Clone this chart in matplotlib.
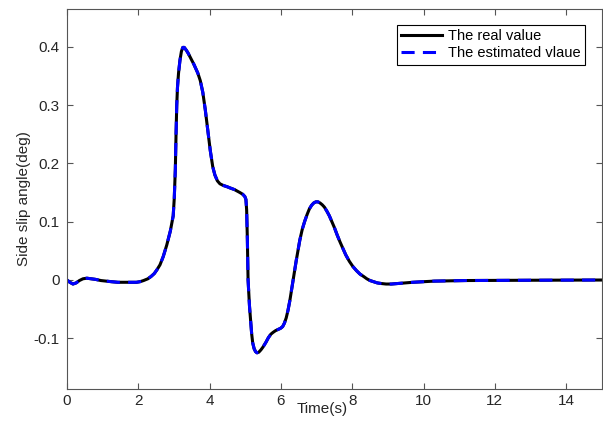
import matplotlib
matplotlib.use("Agg")
import matplotlib.pyplot as plt

plt.rcParams['font.family'] = ['Liberation Sans', 'DejaVu Sans']

# Data (time in s, side slip angle in deg)
time_s = [0.0, 0.08, 0.17, 0.26, 0.35, 0.45, 0.56, 0.68, 0.8, 0.95, 1.1,
          1.25, 1.43, 1.6, 1.8, 1.95, 2.05, 2.15, 2.27, 2.36, 2.45, 2.53,
          2.61, 2.7, 2.8, 2.9, 2.98, 3.01, 3.04, 3.06, 3.08, 3.1, 3.13,
          3.17, 3.21, 3.25, 3.29, 3.35, 3.4, 3.45, 3.56, 3.67, 3.74, 3.81,
          3.88, 3.95, 4.02, 4.09, 4.15, 4.22, 4.29, 4.39, 4.49, 4.57, 4.7,
          4.85, 4.93, 4.99, 5.02, 5.04, 5.06, 5.08, 5.12, 5.15, 5.18, 5.21,
          5.25, 5.29, 5.33, 5.38, 5.44, 5.5, 5.58, 5.65, 5.72, 5.78, 5.85,
          5.92, 5.99, 6.05, 6.1, 6.15, 6.2, 6.25, 6.3, 6.35, 6.43, 6.53,
          6.6, 6.67, 6.74, 6.8, 6.86, 6.92, 6.98, 7.04, 7.1, 7.16, 7.22,
          7.29, 7.36, 7.43, 7.5, 7.58, 7.66, 7.74, 7.82, 7.92, 8.02, 8.12,
          8.22, 8.32, 8.41, 8.5, 8.6, 8.7, 8.8, 8.95, 9.1, 9.3, 9.5, 9.7,
          10.0, 10.3, 10.7, 11.2, 12.0, 13.0, 14.0, 15.0]
real_value = [0.0, -0.004, -0.007, -0.005, -0.001, 0.002, 0.003, 0.002,
              0.001, -0.001, -0.002, -0.003, -0.004, -0.004, -0.004, -0.004,
              -0.003, -0.001, 0.002, 0.006, 0.011, 0.018, 0.026, 0.04, 0.06,
              0.084, 0.11, 0.14, 0.19, 0.25, 0.3, 0.33, 0.355, 0.377, 0.392,
              0.399, 0.399, 0.394, 0.389, 0.383, 0.37, 0.355, 0.342, 0.322,
              0.292, 0.257, 0.222, 0.194, 0.18, 0.17, 0.165, 0.162, 0.16,
              0.158, 0.155, 0.15, 0.147, 0.143, 0.138, 0.12, 0.07, 0.0,
              -0.045, -0.069, -0.092, -0.108, -0.118, -0.123, -0.125, -0.124,
              -0.12, -0.115, -0.107, -0.099, -0.093, -0.09, -0.087, -0.085,
              -0.083, -0.08, -0.074, -0.065, -0.052, -0.036, -0.017, 0.002,
              0.033, 0.068, 0.087, 0.101, 0.113, 0.122, 0.128, 0.132, 0.134,
              0.134, 0.132, 0.129, 0.125, 0.118, 0.11, 0.1, 0.09, 0.077, 0.065,
              0.054, 0.043, 0.032, 0.023, 0.016, 0.01, 0.006, 0.002, -0.001,
              -0.003, -0.005, -0.006, -0.007, -0.007, -0.006, -0.005, -0.004,
              -0.003, -0.002, -0.0015, -0.001, -0.0007, -0.0005, -0.0003,
              -0.0001]
estimated_value = list(real_value)

x_ticks = [0, 2, 4, 6, 8, 10, 12, 14]
y_ticks = [-0.1, 0, 0.1, 0.2, 0.3, 0.4]
y_tick_labels = ['-0.1', '0', '0.1', '0.2', '0.3', '0.4']

fig = plt.figure(figsize=(6.03, 4.26), dpi=100)
ax = fig.add_axes([0.111, 0.087, 0.887, 0.892])

ax.plot(time_s, real_value, color='black', lw=2.2, label='The real value',
        solid_joinstyle='round')
ax.plot(time_s, estimated_value, color='blue', lw=2.2, dashes=(4.3, 2.7),
        label='The estimated vlaue', dash_joinstyle='round')

ax.set_xlim(0, 15)
ax.set_ylim(-0.187, 0.465)
ax.set_xticks(x_ticks)
ax.set_xticklabels([str(v) for v in x_ticks])
ax.set_yticks(y_ticks)
ax.set_yticklabels(y_tick_labels)

gray = '#262626'
for s in ax.spines.values():
    s.set_color('#555555')
    s.set_linewidth(0.8)
ax.tick_params(direction='in', top=True, right=True, length=4, width=0.8,
               colors='#555555', labelcolor=gray, labelsize=11)
ax.tick_params(axis='y', pad=5)
ax.tick_params(axis='x', pad=4)

ax.set_xlabel('Time(s)', fontsize=11, color=gray)
ax.xaxis.set_label_coords(0.4766, -0.035)
ax.set_ylabel('Side slip angle(deg)', fontsize=11, color=gray)
ax.yaxis.set_label_coords(-0.067, 0.5)

leg = ax.legend(loc='upper right', bbox_to_anchor=(0.968, 0.958), fontsize=10.5,
                frameon=True, fancybox=False, edgecolor='black', framealpha=1,
                handlelength=2.8, borderpad=0.3, labelspacing=0.2,
                handletextpad=0.4, borderaxespad=0)
leg.get_frame().set_linewidth(0.8)

fig.savefig('out.png', dpi=100)
